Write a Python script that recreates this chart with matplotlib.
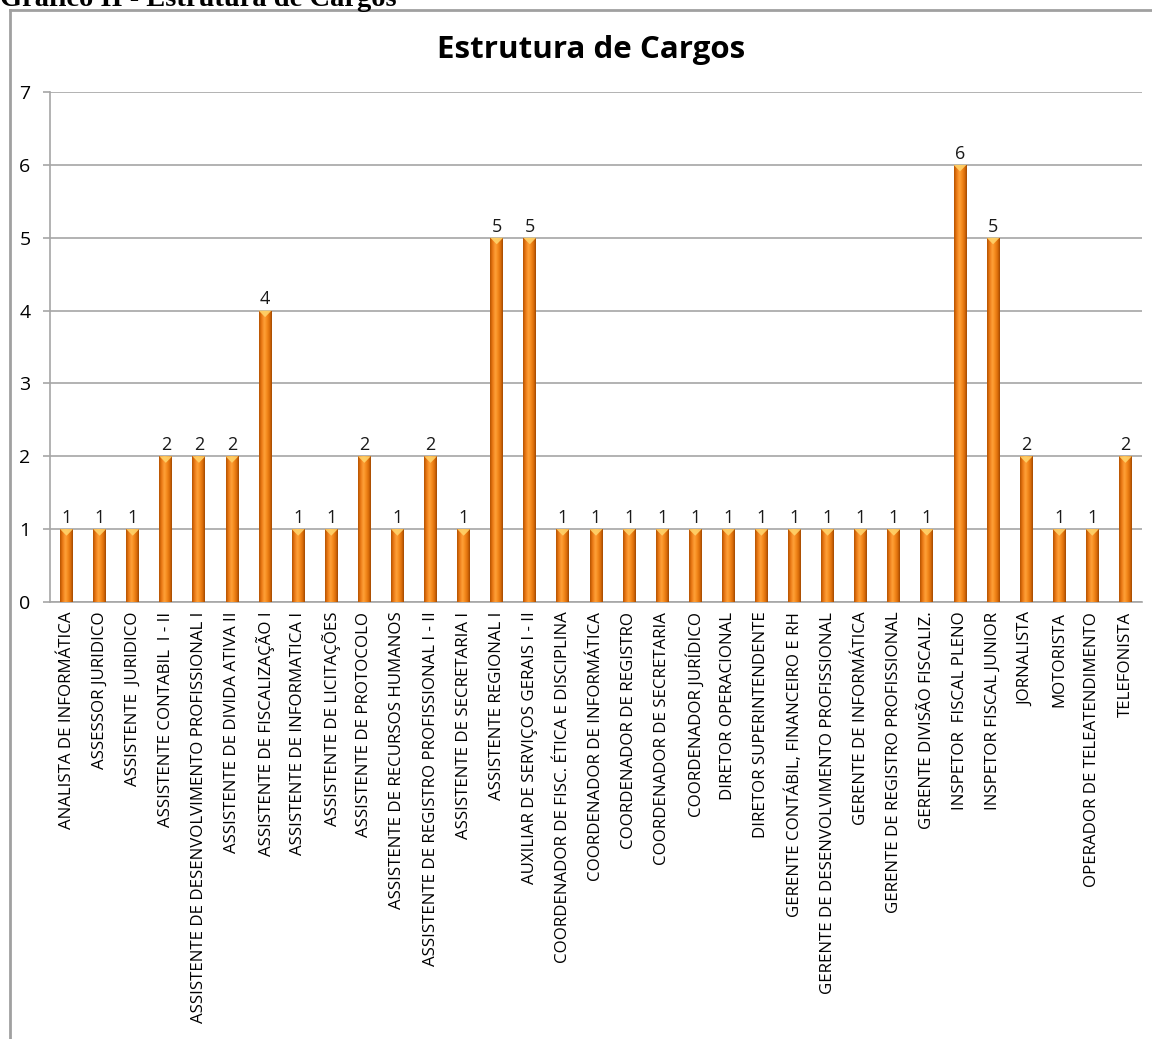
import matplotlib
matplotlib.use("Agg")
import matplotlib.pyplot as plt
import numpy as np
from matplotlib.colors import LinearSegmentedColormap
from matplotlib.patches import Polygon
import matplotlib.lines as mlines

categories = [
    "ANALISTA DE INFORMÁTICA",
    "ASSESSOR JURIDICO",
    "ASSISTENTE  JURIDICO",
    "ASSISTENTE CONTABIL  I - II",
    "ASSISTENTE DE DESENVOLVIMENTO PROFISSIONAL I",
    "ASSISTENTE DE DIVIDA ATIVA II",
    "ASSISTENTE DE FISCALIZAÇÃO I",
    "ASSISTENTE DE INFORMATICA I",
    "ASSISTENTE DE LICITAÇÕES",
    "ASSISTENTE DE PROTOCOLO",
    "ASSISTENTE DE RECURSOS HUMANOS",
    "ASSISTENTE DE REGISTRO PROFISSIONAL I - II",
    "ASSISTENTE DE SECRETARIA I",
    "ASSISTENTE REGIONAL I",
    "AUXILIAR DE SERVIÇOS GERAIS I - II",
    "COORDENADOR DE FISC. ÉTICA E DISCIPLINA",
    "COORDENADOR DE INFORMÁTICA",
    "COORDENADOR DE REGISTRO",
    "COORDENADOR DE SECRETARIA",
    "COORDENADOR JURÍDICO",
    "DIRETOR OPERACIONAL",
    "DIRETOR SUPERINTENDENTE",
    "GERENTE CONTÁBIL, FINANCEIRO E RH",
    "GERENTE DE DESENVOLVIMENTO PROFISSIONAL",
    "GERENTE DE INFORMÁTICA",
    "GERENTE DE REGISTRO PROFISSIONAL",
    "GERENTE DIVISÃO FISCALIZ.",
    "INSPETOR  FISCAL PLENO",
    "INSPETOR FISCAL JUNIOR",
    "JORNALISTA",
    "MOTORISTA",
    "OPERADOR DE TELEATENDIMENTO",
    "TELEFONISTA",
]
values = [1, 1, 1, 2, 2, 2, 4, 1, 1, 2, 1, 2, 1, 5, 5, 1, 1, 1, 1, 1,
          1, 1, 1, 1, 1, 1, 1, 6, 5, 2, 1, 1, 2]
yticks = [0, 1, 2, 3, 4, 5, 6, 7]

title = "Estrutura de Cargos"
caption = "Gráfico II - Estrutura de Cargos"

FONT = "Open Sans"
W, H = 1152, 1039
fig = plt.figure(figsize=(W / 100, H / 100), dpi=100)
fig.patch.set_facecolor("white")

# outer frame (left and top border)
fig.add_artist(mlines.Line2D([10 / W, 10 / W], [0, 1 - 10 / H], color="#a0a0a0", lw=2,
                             transform=fig.transFigure))
fig.add_artist(mlines.Line2D([10 / W, 1], [1 - 10 / H, 1 - 10 / H], color="#a0a0a0", lw=2,
                             transform=fig.transFigure))

fig.text(0 / W, 1 - 6 / H, caption, fontsize=20.5, fontweight="bold",
         family="Liberation Serif", ha="left", va="baseline")

left, right = 50 / W, 1142 / W
bottom, top = 1 - 602 / H, 1 - 92 / H
ax = fig.add_axes([left, bottom, right - left, top - bottom])

x = np.arange(len(categories))
bw = 0.39
bars = ax.bar(x, values, width=bw, color="none", edgecolor="none", zorder=3)

cmap = LinearSegmentedColormap.from_list(
    "orange_cyl",
    [(0.0, "#b35200"), (0.18, "#e87512"), (0.42, "#ffa23a"),
     (0.62, "#f58a1c"), (0.85, "#d86a08"), (1.0, "#9e4700")])
grad = np.linspace(0, 1, 64).reshape(1, -1)

ax.set_xlim(-0.5, len(categories) - 0.5)
ax.set_ylim(0, 7)

for b in bars:
    x0, y0 = b.get_x(), b.get_y()
    w, h = b.get_width(), b.get_height()
    im = ax.imshow(grad, cmap=cmap, extent=[x0, x0 + w, y0, y0 + h],
                   aspect="auto", zorder=3, interpolation="bicubic")
    im.set_clip_path(b)
    d = 0.09
    tri = Polygon([[x0, y0 + h], [x0 + w, y0 + h], [x0 + w * 0.5, y0 + h - d]],
                  closed=True, facecolor="#ffd36b", edgecolor="none", zorder=4, alpha=0.9)
    ax.add_patch(tri)

ax.set_xlim(-0.5, len(categories) - 0.5)
ax.set_ylim(0, 7)

for xi, v in zip(x, values):
    ax.text(xi, v + 0.03, str(v), ha="center", va="bottom", fontsize=13,
            family=FONT, color="#1a1a1a")

ax.set_yticks(yticks)
ax.set_yticklabels([str(t) for t in yticks], fontsize=14, family=FONT)
ax.yaxis.grid(True, color="#a6a6a6", lw=1.2, zorder=0)
ax.set_axisbelow(True)
ax.tick_params(axis="y", length=5, color="#a6a6a6", pad=9, width=1.2)
ax.tick_params(axis="x", length=0, pad=7)
ax.set_xticks(x)
ax.set_xticklabels(categories, rotation=90, fontsize=12.2, family=FONT,
                   va="top", ha="center")

for s in ["top", "right"]:
    ax.spines[s].set_visible(False)
for s in ["left", "bottom"]:
    ax.spines[s].set_color("#a6a6a6")
    ax.spines[s].set_linewidth(1.2)

fig.text(591 / W, 1 - 50 / H, title, fontsize=22.5, fontweight="bold", family=FONT,
         ha="center", va="center")

fig.savefig("out.png", dpi=100)
